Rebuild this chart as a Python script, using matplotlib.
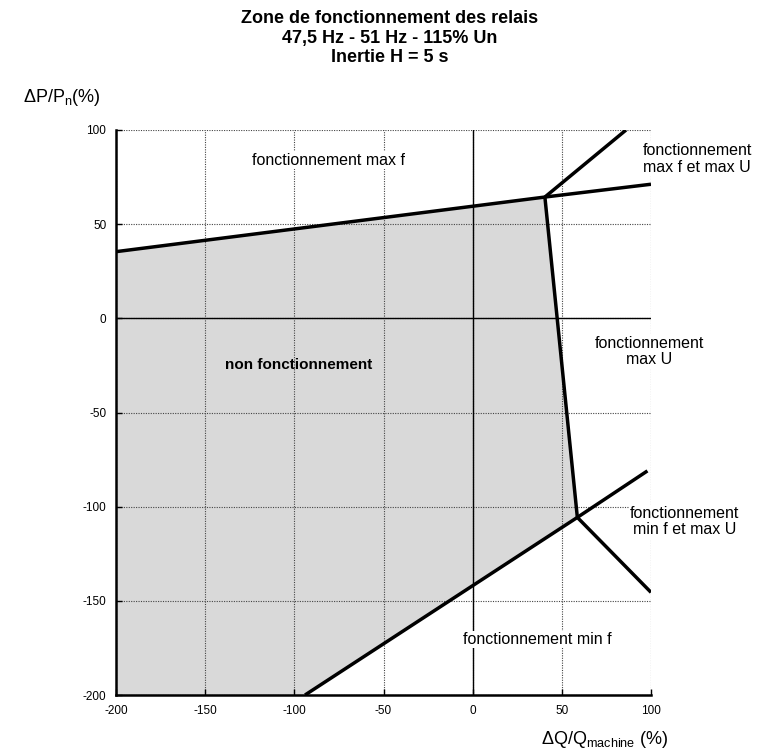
import matplotlib.pyplot as plt
import numpy as np

plt.rcParams['font.family'] = ['Liberation Sans', 'DejaVu Sans']
plt.rcParams['mathtext.fontset'] = 'custom'
plt.rcParams['mathtext.rm'] = 'Liberation Sans'
plt.rcParams['mathtext.it'] = 'Liberation Sans'
plt.rcParams['axes.unicode_minus'] = False

# limits of the relay zones (dQ/Qmachine %, dP/Pn %)
max_f_x = [-200, 40.5, 100]
max_f_y = [35.4, 64.4, 71.2]
max_u_top_x = [40.5, 86]
max_u_top_y = [64.4, 100]
max_u_x = [40.5, 58.7]
max_u_y = [64.4, -105.7]
min_f_x = [-94, 58.7, 98]
min_f_y = [-200, -105.7, -81]
min_f_max_u_x = [58.7, 100]
min_f_max_u_y = [-105.7, -145.5]

# non-operating zone polygon
zone_x = [-200, -94, 58.7, 40.5, -200]
zone_y = [-200, -200, -105.7, 64.4, 35.4]

ticks = np.arange(-200, 101, 50)

fig = plt.figure(figsize=(7.57, 7.51), dpi=100)
ax = fig.add_axes([116 / 757, 1 - 695 / 751, 535 / 757, 565 / 751])

ax.fill(zone_x, zone_y, color='#d9d9d9', zorder=1, lw=0)
ax.grid(True, color='#444444', linestyle=(0, (1, 1.2)), linewidth=0.8, zorder=2)
ax.axhline(0, color='black', lw=1, zorder=3)
ax.axvline(0, color='black', lw=1, zorder=3)

for xs, ys in [(max_f_x, max_f_y), (max_u_top_x, max_u_top_y), (max_u_x, max_u_y),
               (min_f_x, min_f_y), (min_f_max_u_x, min_f_max_u_y)]:
    ax.plot(xs, ys, color='black', lw=2.5, zorder=5, solid_capstyle='butt')

ax.set_xlim(-200, 100)
ax.set_ylim(-200, 100)
ax.set_xticks(ticks)
ax.set_yticks(ticks)
ax.tick_params(direction='in', length=4, width=1, labelsize=8.5, pad=7)
ax.spines['top'].set_visible(False)
ax.spines['right'].set_visible(False)
ax.spines['left'].set_linewidth(1.8)
ax.spines['bottom'].set_linewidth(1.8)

box = dict(facecolor='white', edgecolor='none', pad=1)
fs = 11.5
ax.text(-81, 84, 'fonctionnement max f', ha='center', va='center', fontsize=fs, bbox=box, zorder=4)
ax.text(126, 84.6, 'fonctionnement\nmax f et max U', ha='center', va='center', fontsize=fs,
        bbox=box, zorder=4, clip_on=False, linespacing=1.1)
ax.text(99, -17.6, 'fonctionnement\nmax U', ha='center', va='center', fontsize=fs, bbox=box, zorder=4,
        clip_on=False, linespacing=1.1)
ax.text(-97.5, -24.6, 'non fonctionnement', ha='center', va='center', fontsize=11, fontweight='bold',
        zorder=4)
ax.text(119, -108, 'fonctionnement\nmin f et max U', ha='center', va='center', fontsize=fs, bbox=box,
        zorder=4, clip_on=False, linespacing=1.1)
ax.text(36, -170.5, 'fonctionnement min f', ha='center', va='center', fontsize=fs, bbox=box, zorder=4)

fig.text(390 / 757, 1 - 38 / 751, 'Zone de fonctionnement des relais\n47,5 Hz - 51 Hz - 115% Un\nInertie H = 5 s',
         ha='center', va='center', fontsize=13, fontweight='bold')
fig.text(62 / 757, 1 - 97 / 751, r'$\Delta$P/P$_\mathrm{n}$(%)', ha='center', va='center', fontsize=13)
fig.text(605 / 757, 1 - 740 / 751, r'$\Delta$Q/Q$_\mathrm{machine}$ (%)', ha='center', va='center',
         fontsize=13)

fig.savefig('out.png', dpi=100)
